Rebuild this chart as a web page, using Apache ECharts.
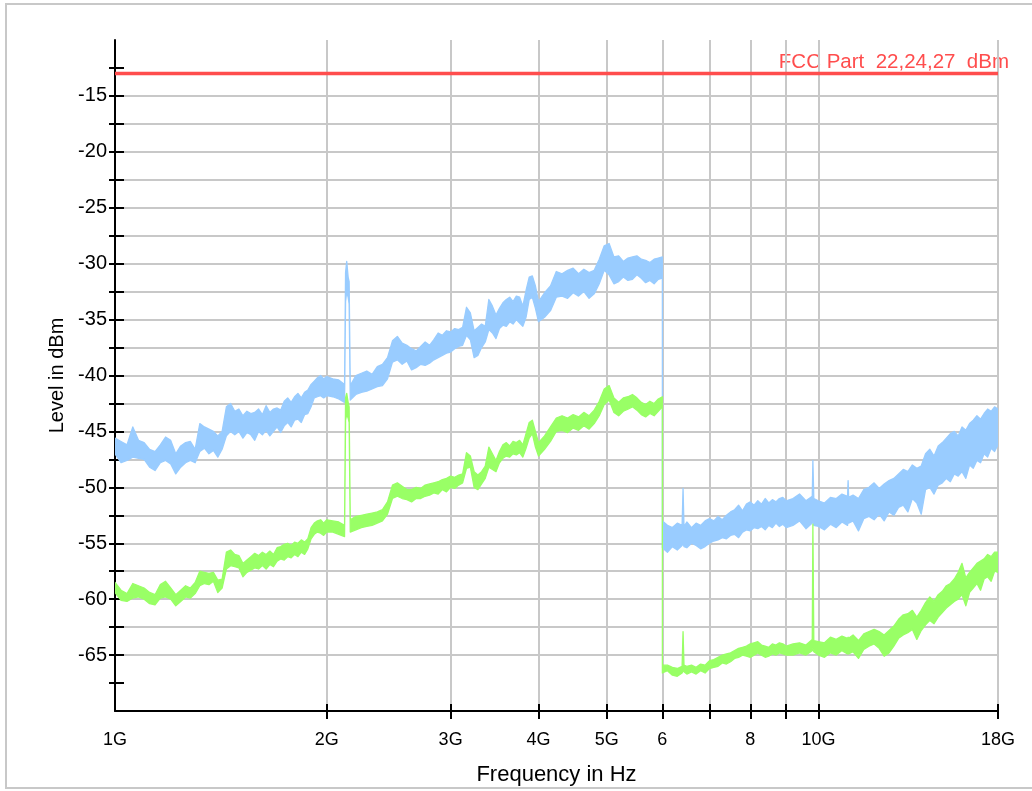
<!DOCTYPE html>
<html><head><meta charset="utf-8">
<script src="https://cdn.jsdelivr.net/npm/echarts@6/dist/echarts.min.js"></script>
<style>html,body{margin:0;padding:0;background:#fff}#c{width:1032px;height:791px}</style>
</head><body><div id="c"></div>
<script>
// ---- axis ticks / labels ----
const xTickGHz = [2, 3, 4, 5, 6, 7, 8, 9, 10, 18];
const xLabelGHz = [1, 2, 3, 4, 5, 6, 8, 10, 18];
const xLabelText = ['1G', '2G', '3G', '4G', '5G', '6', '8', '10G', '18G'];
const yTicks = [-67.5, -65, -62.5, -60, -57.5, -55, -52.5, -50, -47.5, -45, -42.5, -40, -37.5, -35, -32.5, -30, -27.5, -25, -22.5, -20, -17.5, -15, -12.5];
const yLabels = [-65, -60, -55, -50, -45, -40, -35, -30, -25, -20, -15];

// ---- limit line ----
const limitDbm = -13;
const limitText = 'FCC Part  22,24,27  dBm';

// ---- peak trace (blue): [GHz, lower edge dBm, upper edge dBm] ----
const peakBand = [
[1.00,-47.0,-45.6],[1.02,-47.8,-45.9],[1.04,-47.6,-46.2],[1.06,-47.3,-44.6],[1.08,-47.4,-45.8],
[1.10,-47.5,-46.0],[1.12,-48.2,-46.6],[1.14,-48.5,-46.8],[1.16,-47.8,-46.2],[1.18,-47.6,-45.5],
[1.20,-47.9,-45.8],[1.22,-48.8,-47.0],[1.24,-48.2,-46.3],[1.26,-47.8,-46.0],[1.28,-47.6,-45.9],
[1.30,-47.8,-46.6],[1.32,-46.8,-44.3],[1.34,-46.5,-44.6],[1.36,-47.0,-44.8],[1.38,-46.7,-45.0],
[1.40,-47.3,-45.4],[1.42,-46.6,-45.0],[1.44,-45.4,-42.8],[1.46,-45.0,-42.5],[1.48,-45.3,-43.2],
[1.50,-45.0,-43.0],[1.52,-45.6,-43.6],[1.54,-45.1,-43.2],[1.56,-45.3,-43.4],[1.58,-45.8,-43.3],
[1.60,-45.0,-43.0],[1.62,-45.3,-43.5],[1.64,-44.9,-42.7],[1.66,-45.4,-43.3],[1.68,-45.0,-43.0],
[1.70,-44.6,-42.9],[1.72,-45.1,-43.1],[1.74,-44.5,-42.3],[1.76,-44.2,-42.0],[1.78,-44.6,-42.4],
[1.80,-44.0,-41.9],[1.82,-43.9,-41.6],[1.84,-44.2,-42.0],[1.86,-43.5,-41.5],[1.88,-43.4,-41.3],
[1.90,-42.8,-40.8],[1.92,-42.0,-40.5],[1.94,-41.9,-40.2],[1.96,-41.8,-40.0],[1.98,-42.0,-40.3],
[2.00,-41.8,-40.1],
[2.04,-41.9,-40.3],[2.08,-42.1,-40.4],[2.12,-42.4,-40.8],[2.127,-33.4,-30.8],[2.135,-32.5,-29.8],
[2.145,-33.0,-31.2],[2.152,-33.6,-31.6],[2.16,-42.2,-40.9],[2.20,-41.7,-40.0],[2.24,-41.5,-39.8],
[2.28,-41.4,-39.6],[2.32,-41.2,-39.9],[2.36,-41.0,-39.2],[2.40,-40.9,-39.0],[2.44,-40.3,-38.4],
[2.48,-38.8,-36.9],[2.52,-38.6,-36.5],[2.56,-39.0,-37.1],[2.60,-38.7,-37.3],[2.64,-39.5,-37.6],
[2.68,-39.3,-37.8],[2.72,-39.0,-37.4],[2.76,-39.1,-37.0],[2.80,-38.9,-37.3],[2.84,-38.6,-36.8],
[2.88,-38.4,-36.2],[2.92,-38.2,-36.4],[2.96,-38.0,-36.0],[3.00,-37.9,-36.1],[3.04,-37.6,-35.8],
[3.08,-37.4,-35.9],[3.12,-37.3,-35.7],[3.16,-36.4,-33.9],[3.20,-36.8,-34.4],[3.24,-38.4,-36.0],
[3.28,-38.2,-35.7],[3.32,-37.5,-35.4],[3.36,-37.0,-35.6],[3.40,-35.9,-33.2],[3.44,-36.2,-33.8],
[3.48,-36.7,-34.6],[3.52,-35.8,-34.0],[3.56,-35.5,-33.5],[3.60,-35.6,-33.2],[3.64,-35.2,-33.0],
[3.68,-35.4,-33.4],[3.72,-35.0,-32.9],[3.76,-35.3,-33.0],[3.80,-35.6,-33.8],[3.84,-34.8,-32.4],
[3.88,-33.2,-31.2],[3.92,-33.0,-31.1],[3.96,-34.0,-32.0],[4.00,-35.2,-33.4],
[4.08,-34.8,-32.6],[4.16,-34.2,-32.0],[4.24,-33.0,-30.7],[4.32,-32.9,-30.9],[4.40,-33.1,-30.6],
[4.48,-32.6,-30.4],[4.56,-32.9,-30.9],[4.64,-32.5,-30.5],[4.72,-33.1,-30.8],[4.80,-32.7,-30.6],
[4.88,-31.8,-29.6],[4.96,-30.6,-28.4],[5.04,-31.0,-28.2],[5.12,-31.8,-29.4],[5.20,-31.6,-29.3],
[5.28,-31.2,-29.8],[5.36,-31.5,-29.5],[5.44,-31.4,-29.4],[5.52,-31.0,-29.3],[5.60,-31.3,-29.6],
[5.68,-31.7,-29.7],[5.76,-31.5,-29.9],[5.84,-31.8,-29.6],[5.92,-31.4,-29.5],[6.00,-31.3,-29.4],
[6.00,-55.4,-53.0],[6.10,-55.8,-53.4],[6.20,-55.3,-53.6],[6.30,-55.6,-53.2],[6.40,-55.2,-53.4],
[6.42,-55.0,-50.1],[6.44,-55.3,-53.5],[6.50,-55.4,-53.1],[6.60,-55.0,-53.6],[6.70,-55.2,-53.2],
[6.80,-55.5,-53.4],[6.90,-55.3,-53.0],[7.00,-55.0,-52.8],[7.10,-54.8,-53.0],[7.20,-54.7,-52.6],
[7.30,-54.5,-52.9],[7.40,-54.6,-52.5],[7.50,-54.3,-52.2],[7.60,-54.2,-52.0],[7.70,-54.5,-51.6],
[7.80,-54.0,-52.1],[7.90,-53.8,-51.5],[8.00,-53.9,-51.3],[8.10,-53.6,-51.6],[8.20,-53.7,-51.2],
[8.30,-53.5,-51.5],[8.40,-53.8,-51.0],[8.50,-53.4,-51.4],[8.60,-53.6,-51.1],[8.70,-53.2,-51.3],
[8.80,-53.5,-51.0],[8.90,-53.3,-50.9],[9.00,-53.6,-51.2],
[9.20,-53.4,-51.0],[9.40,-53.0,-50.6],[9.60,-53.7,-51.2],[9.80,-53.2,-50.8],[9.82,-53.0,-47.6],
[9.85,-53.4,-51.0],[10.0,-53.5,-51.2],[10.2,-53.8,-51.4],[10.4,-53.3,-50.9],[10.6,-53.6,-51.0],
[10.8,-53.1,-50.6],[11.0,-53.4,-50.8],[11.02,-53.0,-49.4],[11.04,-53.2,-50.9],[11.2,-53.0,-50.7],
[11.4,-53.9,-51.0],[11.6,-52.8,-50.2],[11.8,-52.6,-50.0],[12.0,-52.9,-49.6],[12.2,-52.4,-50.1],
[12.4,-53.0,-49.7],[12.6,-52.2,-49.4],[12.8,-52.5,-49.2],[13.0,-51.8,-48.8],[13.2,-51.6,-48.4],
[13.4,-52.2,-48.6],[13.6,-51.0,-48.0],[13.8,-51.4,-48.3],[14.0,-52.4,-48.1],[14.2,-50.2,-47.0],
[14.4,-50.0,-46.6],[14.6,-50.6,-47.2],[14.8,-49.8,-46.3],[15.0,-49.6,-46.0],[15.2,-49.2,-45.6],
[15.4,-49.5,-45.2],[15.6,-48.8,-45.0],[15.8,-49.0,-45.4],[16.0,-48.6,-44.6],[16.2,-49.2,-44.9],
[16.4,-48.0,-44.3],[16.6,-48.3,-44.0],[16.8,-47.6,-43.6],[17.0,-47.8,-43.9],[17.2,-47.0,-43.4],
[17.4,-47.3,-43.0],[17.6,-46.5,-43.2],[17.8,-46.8,-42.8],[18.0,-46.2,-43.0]
];

// ---- average trace (green): [GHz, lower edge dBm, upper edge dBm] ----
const avgBand = [
[1.00,-59.4,-58.5],[1.02,-60.1,-59.2],[1.04,-60.2,-59.5],[1.06,-59.9,-58.6],[1.08,-59.8,-58.8],
[1.10,-60.0,-59.0],[1.12,-60.4,-59.4],[1.14,-60.5,-59.6],[1.16,-59.9,-58.7],[1.18,-59.8,-58.4],
[1.20,-60.0,-59.0],[1.22,-60.6,-59.6],[1.24,-60.2,-59.2],[1.26,-59.8,-58.8],[1.28,-59.9,-59.0],
[1.30,-59.5,-58.5],[1.32,-58.8,-57.5],[1.34,-58.6,-57.6],[1.36,-58.7,-57.7],[1.38,-58.4,-57.6],
[1.40,-59.4,-58.3],[1.42,-59.0,-58.2],[1.44,-57.3,-55.8],[1.46,-57.0,-55.6],[1.48,-57.1,-56.0],
[1.50,-57.2,-56.1],[1.52,-58.0,-56.8],[1.54,-57.6,-56.5],[1.56,-57.4,-56.2],[1.58,-57.2,-55.9],
[1.60,-57.3,-56.1],[1.62,-57.0,-55.8],[1.64,-57.3,-56.0],[1.66,-56.9,-55.7],[1.68,-57.1,-56.0],
[1.70,-56.6,-55.4],[1.72,-56.4,-55.3],[1.74,-56.5,-55.1],[1.76,-56.2,-55.0],[1.78,-56.3,-55.2],
[1.80,-56.0,-54.9],[1.82,-56.2,-55.0],[1.84,-55.8,-54.7],[1.86,-56.0,-54.9],[1.88,-55.5,-54.6],
[1.90,-54.6,-53.6],[1.92,-54.2,-53.2],[1.94,-54.0,-53.0],[1.96,-54.1,-52.9],[1.98,-54.3,-53.2],
[2.00,-54.0,-52.9],
[2.04,-54.0,-53.0],[2.08,-54.2,-53.1],[2.12,-54.4,-53.4],[2.127,-44.0,-42.0],[2.135,-43.5,-41.6],
[2.145,-43.8,-42.4],[2.152,-44.2,-42.8],[2.16,-54.0,-52.9],[2.20,-53.8,-52.6],[2.24,-53.6,-52.5],
[2.28,-53.5,-52.4],[2.32,-53.4,-52.3],[2.36,-53.2,-52.2],[2.40,-53.0,-52.0],[2.44,-52.4,-51.3],
[2.48,-51.0,-49.8],[2.52,-50.8,-49.6],[2.56,-51.0,-49.9],[2.60,-51.1,-50.2],[2.64,-51.3,-50.2],
[2.68,-51.0,-50.0],[2.72,-51.0,-50.1],[2.76,-50.8,-49.8],[2.80,-50.7,-49.7],[2.84,-50.5,-49.6],
[2.88,-50.6,-49.5],[2.92,-50.2,-49.3],[2.96,-50.4,-49.2],[3.00,-50.0,-49.0],[3.04,-50.1,-49.1],
[3.08,-49.8,-48.9],[3.12,-49.6,-48.8],[3.16,-48.3,-46.9],[3.20,-48.2,-47.2],[3.24,-50.0,-48.6],
[3.28,-50.2,-48.9],[3.32,-49.7,-48.6],[3.36,-49.2,-48.1],[3.40,-48.2,-46.4],[3.44,-48.4,-47.0],
[3.48,-48.6,-47.6],[3.52,-47.8,-46.8],[3.56,-47.4,-46.2],[3.60,-47.2,-46.0],[3.64,-47.3,-46.3],
[3.68,-47.0,-45.9],[3.72,-47.1,-46.0],[3.76,-46.9,-45.8],[3.80,-47.3,-46.2],[3.84,-46.5,-45.2],
[3.88,-45.6,-44.2],[3.92,-45.2,-44.0],[3.96,-46.4,-45.0],[4.00,-47.2,-46.0],
[4.08,-46.6,-45.4],[4.16,-45.9,-44.6],[4.24,-45.0,-43.8],[4.32,-44.9,-43.6],[4.40,-45.1,-43.8],
[4.48,-44.7,-43.5],[4.56,-44.9,-43.7],[4.64,-44.5,-43.3],[4.72,-44.8,-43.6],[4.80,-44.3,-43.1],
[4.88,-43.6,-42.3],[4.96,-42.6,-41.2],[5.04,-42.2,-40.9],[5.12,-43.3,-42.0],[5.20,-43.6,-42.4],
[5.28,-43.2,-42.0],[5.36,-43.0,-41.9],[5.44,-42.8,-41.7],[5.52,-43.1,-42.0],[5.60,-43.5,-42.4],
[5.68,-43.7,-42.6],[5.76,-43.4,-42.3],[5.84,-43.6,-42.5],[5.92,-43.2,-42.1],[6.00,-42.8,-41.9],
[6.00,-66.6,-65.9],[6.10,-66.4,-65.9],[6.20,-66.8,-66.1],[6.30,-66.9,-66.2],[6.40,-66.6,-66.0],
[6.42,-66.4,-62.9],[6.44,-66.5,-65.9],[6.50,-66.7,-66.0],[6.60,-66.5,-65.9],[6.70,-66.7,-66.1],
[6.80,-66.4,-65.8],[6.90,-66.6,-65.9],[7.00,-66.2,-65.5],[7.10,-66.1,-65.4],[7.20,-66.0,-65.2],
[7.30,-65.7,-65.0],[7.40,-65.8,-64.9],[7.50,-65.6,-64.8],[7.60,-65.3,-64.6],[7.70,-65.2,-64.4],
[7.80,-65.0,-64.3],[7.90,-65.1,-64.2],[8.00,-65.2,-64.0],[8.10,-65.0,-63.9],[8.20,-64.8,-63.8],
[8.30,-65.0,-64.1],[8.40,-65.2,-64.2],[8.50,-65.1,-64.3],[8.60,-64.9,-64.0],[8.70,-65.0,-64.1],
[8.80,-64.8,-63.9],[8.90,-64.9,-64.0],[9.00,-65.0,-64.2],
[9.20,-65.0,-64.0],[9.40,-64.8,-63.9],[9.60,-65.0,-64.1],[9.80,-64.6,-63.6],[9.82,-64.4,-53.3],
[9.85,-64.7,-63.7],[10.0,-65.0,-63.8],[10.2,-65.2,-63.9],[10.4,-64.8,-63.4],[10.6,-65.0,-63.6],
[10.8,-64.6,-63.3],[11.0,-64.9,-63.5],[11.02,-64.8,-63.4],[11.04,-64.9,-63.5],[11.2,-64.7,-63.2],
[11.4,-65.3,-63.7],[11.6,-64.5,-63.1],[11.8,-64.2,-62.9],[12.0,-64.0,-62.7],[12.2,-64.4,-62.9],
[12.4,-65.1,-63.2],[12.6,-64.8,-62.8],[12.8,-64.2,-62.4],[13.0,-63.5,-61.8],[13.2,-63.2,-61.4],
[13.4,-63.0,-61.3],[13.6,-62.7,-61.0],[13.8,-63.6,-61.6],[14.0,-62.8,-61.0],[14.2,-62.3,-60.3],
[14.4,-61.9,-59.8],[14.6,-62.2,-60.2],[14.8,-61.6,-59.6],[15.0,-61.2,-59.3],[15.2,-60.8,-58.8],
[15.4,-60.5,-58.6],[15.6,-60.2,-58.2],[15.8,-60.0,-57.6],[16.0,-59.6,-56.8],[16.2,-60.6,-58.1],
[16.4,-59.4,-57.6],[16.6,-59.0,-57.2],[16.8,-58.6,-56.8],[17.0,-59.2,-56.6],[17.2,-58.2,-56.4],
[17.4,-58.0,-56.0],[17.6,-58.4,-56.2],[17.8,-57.5,-55.8],[18.0,-57.6,-55.8]
];

const BLUE = '#99ccff', GREEN = '#99ff66', RED = '#ff4d4d';
const FONT = '"Liberation Sans", Arial, sans-serif';
const G = 1e9;

// Band drawn as one polygon: upper edge forward, lower edge backward,
// every vertex placed through the chart's own axis scales (api.coord).
function bandSeries(rows, color) {
  return {
    type: 'custom', silent: true, z: 3, clip: true,
    data: rows.map(r => [r[0] * G, r[1], r[2]]),
    encode: { x: 0, y: [1, 2] },
    renderItem: function (params, api) {
      if (params.dataIndex !== 0) return null;
      const pts = [];
      for (let i = 0; i < rows.length; i++) pts.push(api.coord([rows[i][0] * G, rows[i][2]]));
      for (let i = rows.length - 1; i >= 0; i--) pts.push(api.coord([rows[i][0] * G, rows[i][1]]));
      return { type: 'polygon', shape: { points: pts },
               style: { fill: color, stroke: color, lineWidth: 1.3, lineJoin: 'round' } };
    }
  };
}

const chart = echarts.init(document.getElementById('c'), null, { renderer: 'canvas' });
const gridLine = { show: true, lineStyle: { color: '#c8c8c8', width: 2 } };
chart.setOption({
  animation: false,
  backgroundColor: '#fff',
  grid: { left: 115, right: 34, top: 40, bottom: 78, containLabel: false },
  xAxis: [
    { type: 'log', logBase: 10, min: 1 * G, max: 18 * G, position: 'bottom',
      axisLine: { show: true, onZero: false, lineStyle: { color: '#000', width: 2 } },
      axisTick: { show: true, inside: true, length: 7, customValues: xTickGHz.map(v => v * G),
                  lineStyle: { color: '#000', width: 2 } },
      axisLabel: { show: true, customValues: xLabelGHz.map(v => v * G), margin: 20,
                   fontSize: 18, color: '#000', fontFamily: FONT,
                   formatter: function (v) {
                     const g = v / G;
                     const i = xLabelGHz.findIndex(t => Math.abs(t - g) < 1e-6);
                     return i >= 0 ? xLabelText[i] : '';
                   } },
      splitLine: gridLine, minorTick: { show: false }, minorSplitLine: { show: false },
      name: 'Frequency in Hz', nameLocation: 'middle', nameGap: 53,
      nameTextStyle: { fontSize: 22, color: '#000', fontFamily: FONT } },
    { type: 'log', logBase: 10, min: 1 * G, max: 18 * G, position: 'bottom',
      axisLine: { show: false },
      axisTick: { show: true, inside: false, length: 8, customValues: xTickGHz.map(v => v * G),
                  lineStyle: { color: '#000', width: 2 } },
      axisLabel: { show: false }, splitLine: { show: false } }
  ],
  yAxis: [
    { type: 'value', min: -70, max: -10, interval: 2.5, position: 'left',
      axisLine: { show: true, onZero: false, lineStyle: { color: '#000', width: 2 } },
      axisTick: { show: true, inside: true, length: 9, customValues: yTicks,
                  lineStyle: { color: '#000', width: 2 } },
      axisLabel: { show: true, customValues: yLabels, margin: 8, fontSize: 20,
                   color: '#000', fontFamily: FONT, formatter: v => String(v) },
      splitLine: Object.assign({ showMaxLine: false, showMinLine: false }, gridLine),
      name: 'Level in dBm', nameLocation: 'middle', nameGap: 47,
      nameTextStyle: { fontSize: 20, color: '#000', fontFamily: FONT } },
    { type: 'value', min: -70, max: -10, interval: 2.5, position: 'left',
      axisLine: { show: false },
      axisTick: { show: true, inside: false, length: 6, customValues: yTicks,
                  lineStyle: { color: '#000', width: 2 } },
      axisLabel: { show: false }, splitLine: { show: false } }
  ],
  series: [
    bandSeries(peakBand, BLUE),
    bandSeries(avgBand, GREEN),
    { type: 'line', data: [[1 * G, limitDbm], [18 * G, limitDbm]], symbol: 'none', silent: true,
      lineStyle: { color: RED, width: 3.5 }, z: 4 }
  ],
  graphic: [
    { type: 'rect', silent: true, z: -10,
      shape: { x: 6, y: 4, width: 1040, height: 784 },
      style: { fill: 'none', stroke: '#c8c8c8', lineWidth: 2 } },
    { type: 'text', right: 23, top: 52, silent: true,
      style: { text: limitText, fill: RED, font: '20.5px ' + FONT } }
  ]
});
</script>
</body></html>
